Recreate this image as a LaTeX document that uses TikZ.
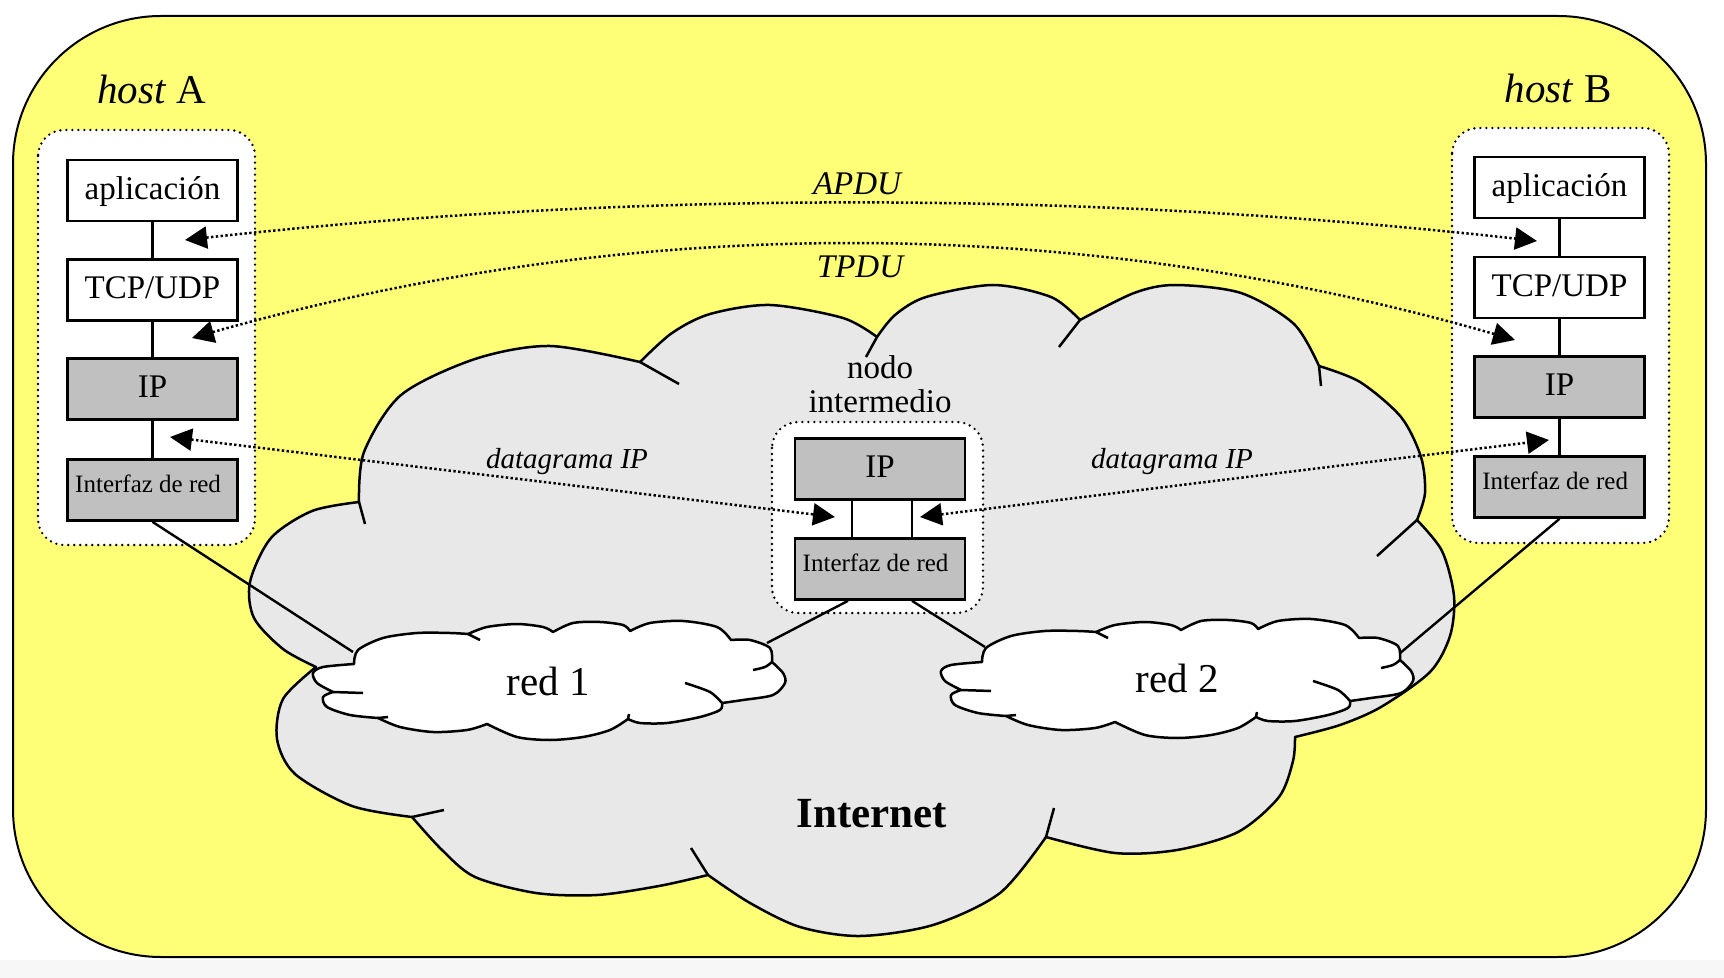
\documentclass[tikz,border=0pt]{standalone}
\usepackage{fontspec}
\setmainfont{Liberation Serif}
\usetikzlibrary{arrows.meta}

\definecolor{padyellow}{RGB}{255,255,119}
\definecolor{layergray}{RGB}{192,192,192}
\definecolor{netgray}{RGB}{232,232,232}

\tikzset{
  redcloud/.pic={
    \filldraw[cloudline,fill=white]
      plot[smooth] coordinates {(-194,-19) (-190,-33) (-165,-45) (-131,-50) (-98,-50) (-80,-49)}
      -- plot[smooth] coordinates {(-80,-49) (-61,-56) (-31,-59) (-5,-56) (5,-51)}
      -- plot[smooth] coordinates {(5,-51) (25,-60) (52,-61) (75,-58) (82,-52)}
      -- plot[smooth] coordinates {(82,-52) (102,-60) (135,-62) (169,-56) (183,-43)}
      -- plot[smooth] coordinates {(183,-43) (202,-43) (222,-35) (224,-21)}
      -- plot[smooth] coordinates {(224,-21) (235,-10) (237,0) (225,12) (195,17) (174,20)}
      -- plot[smooth] coordinates {(174,20) (172,27) (152,34) (119,40) (92,40) (80,36)}
      -- plot[smooth] coordinates {(80,36) (62,47) (35,54) (2,57) (-31,54) (-61,41)}
      -- plot[smooth] coordinates {(-61,41) (-81,47) (-115,49) (-148,44) (-170,35)}
      -- plot[smooth] coordinates {(-170,35) (-198,32) (-221,24) (-225,14) (-215,9)}
      -- plot[smooth] coordinates {(-215,9) (-231,0) (-235,-10) (-225,-16) (-194,-19)}
      -- cycle;
    % inner strokes
    \draw[cloudline] (-80,-49) -- (-68,-43);
    \draw[cloudline] plot[smooth] coordinates {(224,-21) (217,-16) (205,-13)};
    \draw[cloudline] plot[smooth] coordinates {(174,20) (162,9) (137,0)};
    \draw[cloudline] (80,36) -- (81,31);
    \draw[cloudline] (-170,35) -- (-160,34);
    \draw[cloudline] (-215,9) -- (-185,10);
  }
}

\begin{document}
\begin{tikzpicture}[x=0.5pt,y=-0.5pt,
  >={Triangle[length=11pt,width=11pt]},
  cloudline/.style={line width=1.25pt,line join=round},
  link/.style={line width=1.2pt},
  stackbox/.style={draw,fill=white,line width=1.3pt,line cap=round,
    dash pattern=on 0pt off 3pt,rounded corners=13pt},
  layer/.style={draw,fill=white,line width=1.35pt,minimum width=85pt,
    minimum height=30.5pt,inner sep=0pt,text height=0.93em,text depth=0.07em,
    font=\fontsize{16.5}{19}\selectfont},
  iplayer/.style={layer,fill=layergray},
  netlayer/.style={layer,fill=layergray,text height=0.62em,text depth=0.38em,
    font=\fontsize{12.5}{14}\selectfont,execute at end node={\kern4.4pt}},
  msg/.style={line width=1.25pt,dash pattern=on 1.2pt off 1.2pt,<->},
  hostlabel/.style={anchor=base,inner sep=0pt,font=\fontsize{20.5}{23}\selectfont},
  msglabel/.style={anchor=base,inner sep=0pt,font=\fontsize{16.5}{19}\selectfont\itshape},
  dglabel/.style={anchor=base,inner sep=0pt,font=\fontsize{14.5}{17}\selectfont\itshape}]
\useasboundingbox (0,0) rectangle (1724,978);
\fill[white] (0,0) rectangle (1724,978);
\fill[black!3] (0,960) rectangle (1724,978);

% frame
\draw[fill=padyellow,line width=1pt,rounded corners=74pt] (13,16) rectangle (1706,957);

% Internet cloud
\filldraw[cloudline,fill=netgray]
  plot[smooth] coordinates {(359,502) (364,452) (401,395) (475,359) (550,346) (640,362)}
  -- plot[smooth] coordinates {(640,362) (672,333) (710,314) (770,305) (843,318) (877,337)}
  -- plot[smooth] coordinates {(877,337) (895,315) (926,297) (993,285) (1051,297) (1080,320)}
  -- plot[smooth] coordinates {(1080,320) (1134,293) (1175,285) (1241,293) (1294,324) (1319,366)}
  -- plot[smooth] coordinates {(1319,366) (1360,382) (1401,417) (1421,457) (1425,493) (1417,520)}
  -- plot[smooth] coordinates {(1417,520) (1442,551) (1454,596) (1450,636) (1430,672) (1381,707) (1340,725) (1295,737)}
  -- plot[smooth] coordinates {(1295,737) (1293,761) (1279,797) (1238,832) (1177,850) (1115,853) (1046,837)}
  -- plot[smooth] coordinates {(1046,837) (1000,893) (933,925) (860,936) (800,927) (750,903) (708,875)}
  -- plot[smooth] coordinates {(708,875) (659,886) (597,895) (536,893) (475,877) (442,850) (412,817)}
  -- plot[smooth] coordinates {(412,817) (352,806) (295,774) (277,739) (283,699) (316,667)}
  -- plot[smooth] coordinates {(316,667) (283,649) (254,618) (250,582) (271,538) (312,511) (359,502)}
  -- cycle;
\draw[cloudline] (359,502) -- (365,524);
\draw[cloudline] (640,362) -- (679,384);
\draw[cloudline] (877,337) -- (866,357);
\draw[cloudline] (1080,320) -- (1059,347);
\draw[cloudline] (1319,366) -- (1321,386);
\draw[cloudline] (1417,520) -- (1377,556);
\draw[cloudline] (1046,837) -- (1054,808);
\draw[cloudline] (708,875) -- (691,848);
\draw[cloudline] (412,817) -- (444,810);

% stacks
\draw[stackbox] (38,130) rectangle (255,545);
\draw[stackbox] (1452,128) rectangle (1669,543);
\draw[stackbox] (772,422) rectangle (983,613);

% host A
\node[layer] (appA) at (152.5,190.5) {aplicación};
\node[layer] (tcpA) at (152.5,290) {TCP/UDP};
\node[iplayer] (ipA) at (152.5,389) {IP};
\node[netlayer] (ifA) at (152.5,490) {Interfaz de red};
\draw[link] (appA) -- (tcpA);
\draw[link] (tcpA) -- (ipA);
\draw[link] (ipA) -- (ifA);

% host B
\node[layer] (appB) at (1559.5,187.5) {aplicación};
\node[layer] (tcpB) at (1559.5,287.5) {TCP/UDP};
\node[iplayer] (ipB) at (1559.5,387) {IP};
\node[netlayer] (ifB) at (1559.5,487) {Interfaz de red};
\draw[link] (appB) -- (tcpB);
\draw[link] (tcpB) -- (ipB);
\draw[link] (ipB) -- (ifB);

% nodo intermedio
\node[iplayer] (ipM) at (880,469) {IP};
\node[netlayer] (ifM) at (880,569) {Interfaz de red};
\draw[link] ([xshift=-14pt]ipM.south) -- ([xshift=-14pt]ifM.north);
\draw[link] ([xshift=16pt]ipM.south) -- ([xshift=16pt]ifM.north);

% links to the nets
\coordinate (r1w) at (353,652);
\coordinate (r1e) at (767,643);
\coordinate (r2w) at (985,647);
\coordinate (r2e) at (1399,654);
\draw[link] (ifA.south) -- (r1w);
\draw[link] ([xshift=-16pt]ifM.south) -- (r1e);
\draw[link] ([xshift=16pt]ifM.south) -- (r2w);
\draw[link] (ifB.south) -- (r2e);

% nets
\pic at (548,683) {redcloud};
\pic at (1176,681) {redcloud};
\node[hostlabel] (red1) at (548,695) {red 1};
\node[hostlabel] (red2) at (1177,692) {red 2};

% PDUs
\coordinate (apduA) at (185,240);
\coordinate (apduB) at (1537,241);
\coordinate (tpduA) at (192,338);
\coordinate (tpduB) at (1515,340);
\coordinate (dgAl) at (170,437);
\coordinate (dgAr) at (835,517);
\coordinate (dgBl) at (920,517);
\coordinate (dgBr) at (1549,440);
\draw[msg] (apduA) .. controls (637,190) and (1087,191) .. (apduB);
\draw[msg] (tpduA) .. controls (633,213) and (1074,213) .. (tpduB);
\draw[msg] (dgAl) -- (dgAr);
\draw[msg] (dgBl) -- (dgBr);

% labels
\node[hostlabel] (hostA) at (152,104) {\textit{host} A};
\node[hostlabel] (hostB) at (1558,103) {\textit{host} B};
\node[msglabel] (apdu) at (857,195) {APDU};
\node[msglabel] (tpdu) at (860,278) {TPDU};
\node[dglabel] (dgA) at (567,469) {datagrama IP};
\node[dglabel] (dgB) at (1172,469) {datagrama IP};
\node[anchor=south,inner sep=0pt,align=center,font=\fontsize{16.5}{17}\selectfont]
  (nodo) at (880,413) {nodo\\intermedio};
\node[anchor=base,inner sep=0pt,font=\fontsize{21.5}{24}\selectfont\bfseries]
  (inet) at (872,827) {Internet};
\end{tikzpicture}
\end{document}
